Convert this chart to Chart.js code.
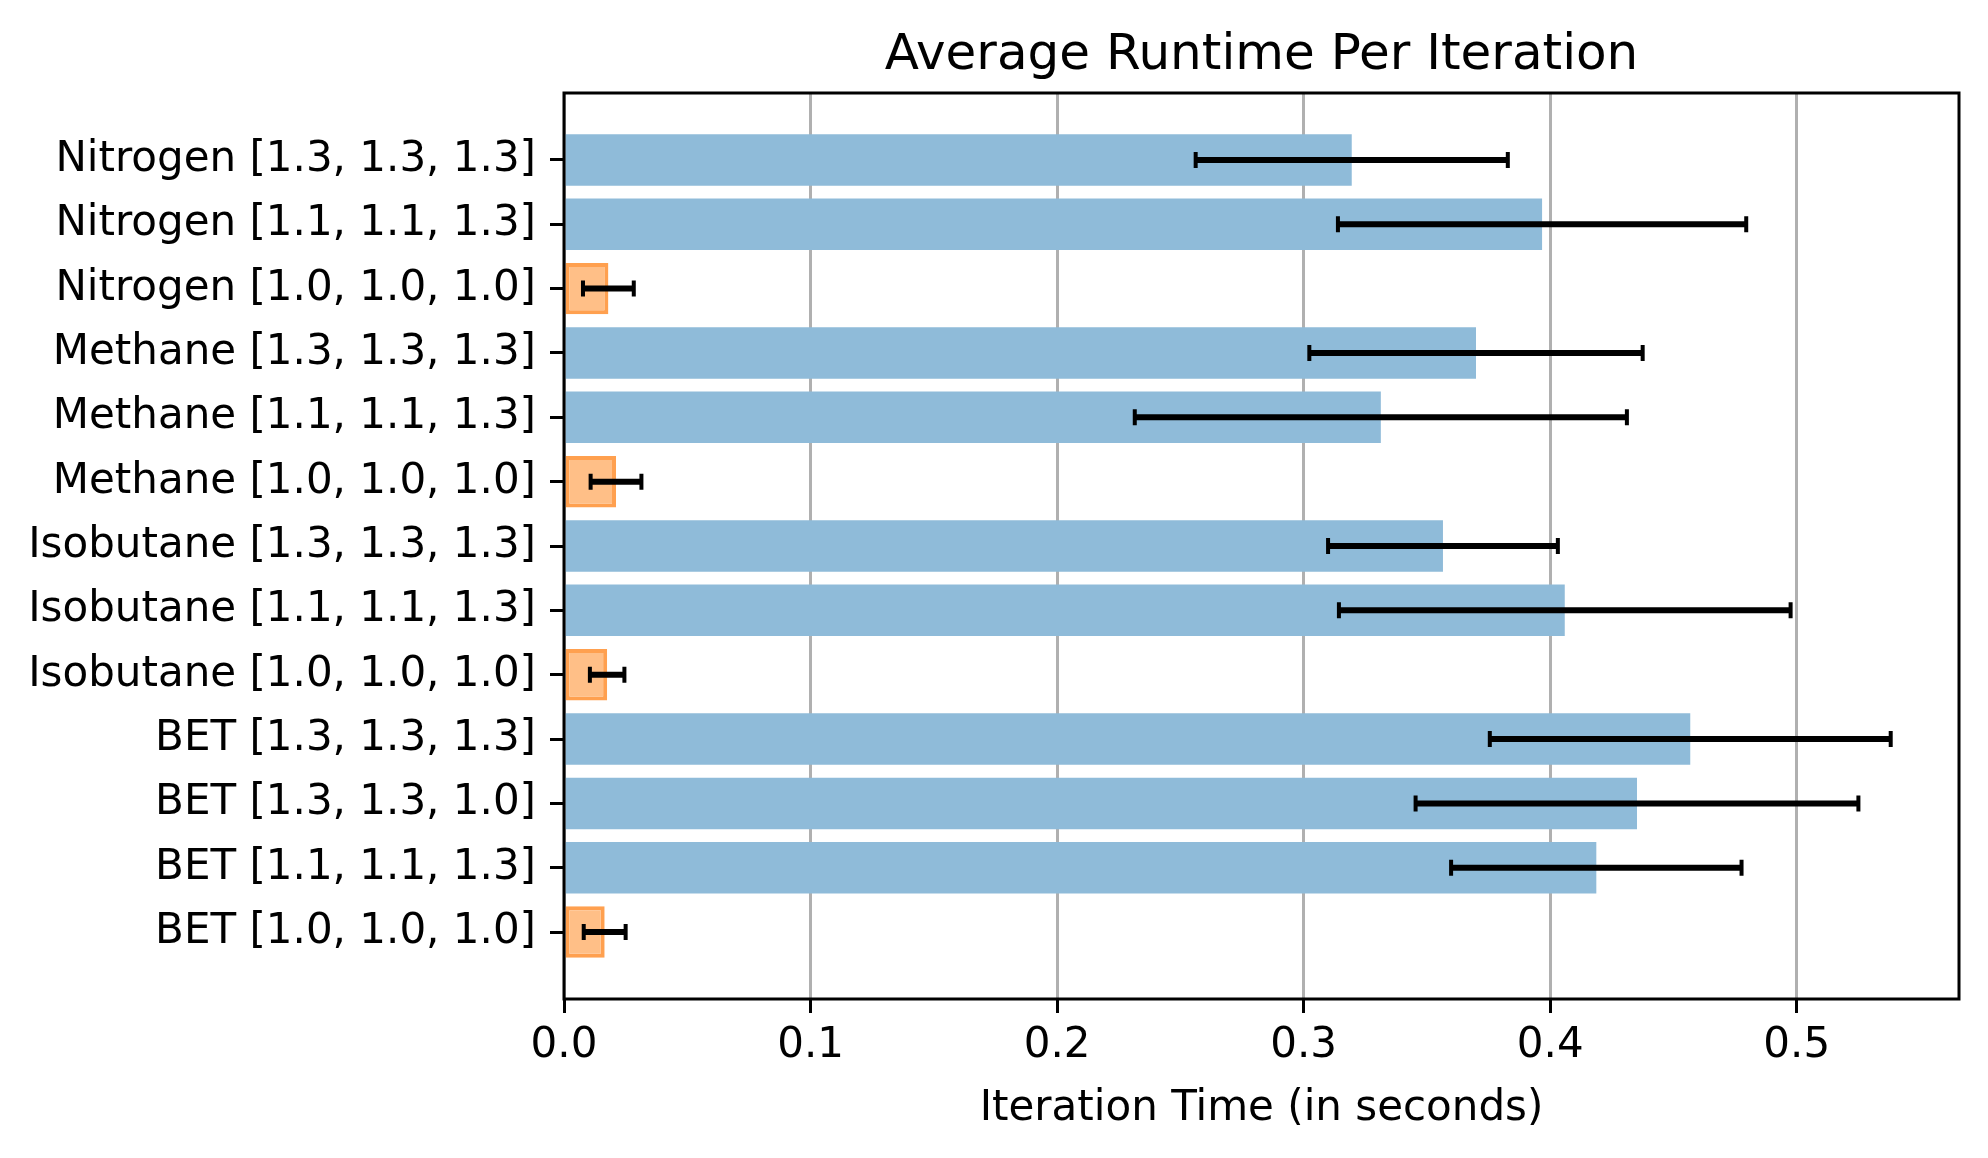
<!DOCTYPE html>
<html>
<head>
<meta charset="utf-8">
<script src="https://cdn.jsdelivr.net/npm/chart.js@4/dist/chart.umd.min.js"></script>
<style>
  html, body { margin: 0; padding: 0; background: #fff; }
  #runtimeChart { display: block; }
</style>
</head>
<body>
<canvas id="runtimeChart" width="1988" height="1158"></canvas>
<script>
// rows from top to bottom, as in the picture
var labels = [
    'Nitrogen [1.3, 1.3, 1.3]',
    'Nitrogen [1.1, 1.1, 1.3]',
    'Nitrogen [1.0, 1.0, 1.0]',
    'Methane [1.3, 1.3, 1.3]',
    'Methane [1.1, 1.1, 1.3]',
    'Methane [1.0, 1.0, 1.0]',
    'Isobutane [1.3, 1.3, 1.3]',
    'Isobutane [1.1, 1.1, 1.3]',
    'Isobutane [1.0, 1.0, 1.0]',
    'BET [1.3, 1.3, 1.3]',
    'BET [1.3, 1.3, 1.0]',
    'BET [1.1, 1.1, 1.3]',
    'BET [1.0, 1.0, 1.0]'
];
var meanTimes = [0.3195, 0.3967, 0.0180, 0.3699, 0.3313, 0.0211, 0.3565, 0.4059, 0.0175, 0.4568, 0.4352, 0.4187, 0.0165];
var stdTimes = [0.0633, 0.0828, 0.0103, 0.0676, 0.0998, 0.0103, 0.0466, 0.0916, 0.0070, 0.0813, 0.0898, 0.0589, 0.0085];
var xTicks = [0, 0.1, 0.2, 0.3, 0.4, 0.5];

var fontFamily = '"DejaVu Sans", sans-serif';

// baseline runs ([1.0, 1.0, 1.0]) are orange, the rest blue
function isBaseline(label) {
    return label.indexOf('[1.0, 1.0, 1.0]') !== -1;
}

var points = labels.map(function (l, i) { return { x: meanTimes[i], y: i }; });

// error bars and the axes frame, drawn on top
var errorBarPlugin = {
    id: 'errorBars',
    afterDraw: function (chart) {
        var ctx = chart.ctx;
        var xs = chart.scales.x, ys = chart.scales.y;
        ctx.save();
        ctx.strokeStyle = '#000';
        for (var i = 0; i < meanTimes.length; i++) {
            var y = ys.getPixelForValue(i);
            var x0 = xs.getPixelForValue(meanTimes[i] - stdTimes[i]);
            var x1 = xs.getPixelForValue(meanTimes[i] + stdTimes[i]);
            ctx.lineWidth = 6;
            ctx.beginPath();
            ctx.moveTo(x0, y);
            ctx.lineTo(x1, y);
            ctx.stroke();
            ctx.lineWidth = 4;
            ctx.beginPath();
            ctx.moveTo(x0, y - 8); ctx.lineTo(x0, y + 8);
            ctx.moveTo(x1, y - 8); ctx.lineTo(x1, y + 8);
            ctx.stroke();
        }
        var a = chart.chartArea;
        ctx.lineWidth = 3;
        ctx.strokeRect(a.left, a.top, a.right - a.left, a.bottom - a.top);
        ctx.restore();
    }
};

var ctx = document.getElementById('runtimeChart').getContext('2d');
var runtimeChart = new Chart(ctx, {
    type: 'bar',
    data: {
        datasets: [{
            data: points,
            backgroundColor: labels.map(function (l) { return isBaseline(l) ? '#ffbf87' : '#8fbbd9'; }),
            borderColor: labels.map(function (l) { return isBaseline(l) ? '#ffa04f' : '#8fbbd9'; }),
            borderWidth: labels.map(function (l) { return isBaseline(l) ? 4 : 0; }),
            borderSkipped: false,
            barPercentage: 0.8,
            categoryPercentage: 1.0
        }]
    },
    options: {
        indexAxis: 'y',
        responsive: false,
        animation: false,
        devicePixelRatio: 1,
        layout: { padding: { left: 0, right: 29, top: 0, bottom: 0 } },
        plugins: {
            legend: { display: false },
            tooltip: { enabled: false },
            title: {
                display: true,
                text: 'Average Runtime Per Iteration',
                color: '#000',
                fullSize: false,
                font: { family: fontFamily, size: 50, weight: 'normal', lineHeight: 1.2 },
                padding: { top: 26, bottom: 7 }
            }
        },
        scales: {
            x: {
                type: 'linear',
                min: 0,
                max: 0.5658,
                z: 1,
                border: { display: false },
                grid: {
                    color: '#b0b0b0',
                    lineWidth: 3,
                    drawTicks: true,
                    tickLength: 14,
                    tickColor: '#000',
                    tickWidth: 3
                },
                ticks: {
                    stepSize: 0.1,
                    includeBounds: false,
                    color: '#000',
                    padding: 8,
                    font: { family: fontFamily, size: 42 },
                    callback: function (v) { return Number(v).toFixed(1); }
                },
                afterBuildTicks: function (axis) {
                    axis.ticks = xTicks.map(function (v) { return { value: v }; });
                },
                afterFit: function (axis) { axis.height = 159; },
                title: {
                    display: true,
                    text: 'Iteration Time (in seconds)',
                    color: '#000',
                    font: { family: fontFamily, size: 42, lineHeight: 1.2 },
                    padding: { top: 0, bottom: 24 }
                }
            },
            y: {
                type: 'linear',
                reverse: true,
                offset: false,
                min: -1.04,
                max: labels.length - 1 + 1.04,
                border: { display: false },
                grid: {
                    offset: false,
                    drawOnChartArea: false,
                    drawTicks: true,
                    tickLength: 14,
                    tickColor: '#000',
                    tickWidth: 3
                },
                ticks: {
                    autoSkip: false,
                    color: '#000',
                    padding: 14,
                    font: { family: fontFamily, size: 42 },
                    callback: function (v) { return labels[v]; }
                },
                afterBuildTicks: function (axis) {
                    axis.ticks = labels.map(function (l, i) { return { value: i }; });
                },
                afterFit: function (axis) { axis.width = 564; }
            }
        }
    },
    plugins: [errorBarPlugin]
});
</script>
</body>
</html>
